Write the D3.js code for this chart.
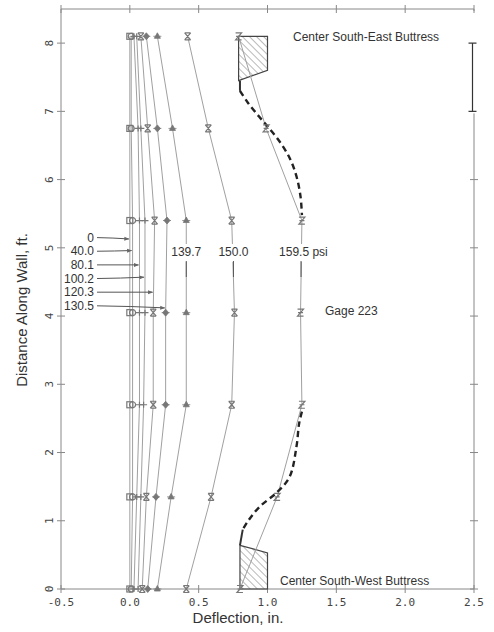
<!DOCTYPE html>
<html><head><meta charset="utf-8">
<script src="https://cdn.jsdelivr.net/npm/d3@7"></script>
<style>body{margin:0;background:#fff}svg{display:block}</style>
</head><body>
<svg id="c" width="494" height="632"></svg>
<script>
// ---- data ----
const gageY = [0, 1.35, 2.7, 4.05, 5.4, 6.75, 8.1];
const pressures = ["0", "40.0", "80.1", "100.2", "120.3", "130.5", "139.7", "150.0", "159.5"];
const defl0   = [0, 0, 0, 0, 0, 0, 0];
const defl40  = [0.01, 0.02, 0.02, 0.02, 0.02, 0.01, 0.01];
const defl80  = [0.03, 0.05, 0.07, 0.07, 0.07, 0.06, 0.03];
const defl100 = [0.06, 0.08, 0.10, 0.11, 0.11, 0.08, 0.05];
const defl120 = [0.09, 0.12, 0.17, 0.17, 0.18, 0.13, 0.08];
const defl130 = [0.13, 0.19, 0.26, 0.26, 0.27, 0.20, 0.12];
const defl139 = [0.20, 0.30, 0.41, 0.41, 0.41, 0.31, 0.20];
const defl150 = [0.41, 0.59, 0.74, 0.76, 0.74, 0.57, 0.42];
const defl159 = [0.80, 1.07, 1.25, 1.24, 1.25, 0.99, 0.79];
const markers = ["square", "circle", "plus", "plus", "bowtie", "diamond", "triangle", "bowtie", "zed"];
const xTicks = [-0.5, 0.0, 0.5, 1.0, 1.5, 2.0, 2.5];
const yTicks = [0, 1, 2, 3, 4, 5, 6, 7, 8];
// left-side labels with arrow target heights (ft)
const leftLabelY = [5.15, 4.95, 4.75, 4.55, 4.35, 4.15];
const arrowTargetY = [5.13, 4.96, 4.75, 4.57, 4.35, 4.12];
// top labels
const topLabels = ["139.7", "150.0", "159.5 psi"];
const topLabelSeries = [6, 7, 8];
// buttresses (hatched)
const seButtressX = [0.79, 1.0, 1.0, 0.79];
const seButtressY = [8.1, 8.1, 7.6, 7.45];
const swButtressX = [0.8, 1.0, 1.0, 0.8];
const swButtressY = [0.64, 0.53, 0, 0];
// heavy solid stubs
const seStubX = [0.8, 0.8], seStubY = [7.45, 7.3];
const swStubX = [0.82, 0.8], swStubY = [0.87, 0.64];
// dashed estimated profile
const dashTopX = [0.8, 0.86, 0.94, 1.0, 1.08, 1.16, 1.21, 1.24, 1.25];
const dashTopY = [7.3, 7.12, 6.92, 6.78, 6.58, 6.32, 6.05, 5.75, 5.48];
const dashBotX = [1.25, 1.23, 1.21, 1.16, 1.07, 0.94, 0.86, 0.82];
const dashBotY = [2.6, 2.43, 2.08, 1.64, 1.42, 1.2, 1.0, 0.87];

const series = [defl0, defl40, defl80, defl100, defl120, defl130, defl139, defl150, defl159];

// ---- layout ----
const svg = d3.select("#c");
const x = d3.scaleLinear().domain([-0.5, 2.5]).range([61, 474]);
const y = d3.scaleLinear().domain([0, 8.5]).range([589, 9]);
const mono = "'DejaVu Sans Mono', monospace";
const sans = "'Liberation Sans', Arial, Helvetica, sans-serif";
const axisCol = "#888";
const lineCol = "#a0a0a0";

const defs = svg.append("defs");
const pat = defs.append("pattern").attr("id", "hatch").attr("patternUnits", "userSpaceOnUse")
  .attr("width", 5).attr("height", 5).attr("patternTransform", "rotate(-45)");
pat.append("line").attr("x1", 0).attr("y1", 0).attr("x2", 0).attr("y2", 5)
  .attr("stroke", "#666").attr("stroke-width", 0.9);
const arrow = defs.append("marker").attr("id", "arr").attr("viewBox", "0 0 10 10")
  .attr("refX", 9).attr("refY", 5).attr("markerWidth", 6).attr("markerHeight", 5).attr("orient", "auto");
arrow.append("path").attr("d", "M0,1 L10,5 L0,9 Z").attr("fill", "#666");

// frame lines
const g = svg.append("g");
g.append("line").attr("x1", x(-0.5)).attr("x2", x(2.5)).attr("y1", y(0)).attr("y2", y(0)).attr("stroke", axisCol);
g.append("line").attr("x1", x(-0.5)).attr("x2", x(2.5)).attr("y1", y(8.5)).attr("y2", y(8.5)).attr("stroke", axisCol);
g.append("line").attr("x1", x(-0.5)).attr("x2", x(-0.5)).attr("y1", y(0)).attr("y2", y(8.5)).attr("stroke", axisCol);
g.append("line").attr("x1", x(2.5)).attr("x2", x(2.5)).attr("y1", y(0)).attr("y2", y(6.97)).attr("stroke", axisCol);
g.append("line").attr("x1", x(2.5)).attr("x2", x(2.5)).attr("y1", y(8.5)).attr("y2", y(8.47)).attr("stroke", axisCol);
// scale bar
const sbx = x(2.5) - 1.5;
g.append("line").attr("x1", sbx).attr("x2", sbx).attr("y1", y(8)).attr("y2", y(7)).attr("stroke", "#333").attr("stroke-width", 1.2);
[8, 7].forEach(v => g.append("line").attr("x1", sbx - 4).attr("x2", sbx + 4).attr("y1", y(v)).attr("y2", y(v)).attr("stroke", "#333").attr("stroke-width", 1.2));

// ticks (crossing style)
xTicks.forEach(t => {
  [y(0), y(8.5)].forEach(yy => g.append("line").attr("x1", x(t)).attr("x2", x(t)).attr("y1", yy - 4).attr("y2", yy + 4).attr("stroke", axisCol));
  g.append("text").attr("x", x(t)).attr("y", 606).attr("text-anchor", "middle")
    .attr("font-family", mono).attr("font-size", 11).attr("fill", "#444")
    .text(t.toFixed(1));
});
yTicks.forEach(t => {
  g.append("line").attr("x1", x(-0.5) - 4).attr("x2", x(-0.5) + 4).attr("y1", y(t)).attr("y2", y(t)).attr("stroke", axisCol);
  if (t < 7) g.append("line").attr("x1", x(2.5) - 4).attr("x2", x(2.5) + 4).attr("y1", y(t)).attr("y2", y(t)).attr("stroke", axisCol);
  g.append("text").attr("transform", `translate(53,${y(t)}) rotate(-90)`).attr("text-anchor", "middle")
    .attr("font-family", mono).attr("font-size", 11).attr("fill", "#444").text(t);
});

// axis titles
svg.append("text").attr("x", 238).attr("y", 623).attr("text-anchor", "middle")
  .attr("font-family", sans).attr("font-size", 15).attr("fill", "#333").text("Deflection, in.");
svg.append("text").attr("transform", `translate(27,310) rotate(-90)`).attr("text-anchor", "middle")
  .attr("font-family", sans).attr("font-size", 15).attr("fill", "#333").text("Distance Along Wall, ft.");

// buttresses
const poly = (xs, ys) => d3.line()(xs.map((v, i) => [x(v), y(ys[i])])) + "Z";
svg.append("path").attr("d", poly(seButtressX, seButtressY)).attr("fill", "url(#hatch)").attr("stroke", "#444").attr("stroke-width", 1.2);
svg.append("path").attr("d", poly(swButtressX, swButtressY)).attr("fill", "url(#hatch)").attr("stroke", "#444").attr("stroke-width", 1.2);

// series lines
const lineGen = d3.line().x(d => x(d[0])).y(d => y(d[1]));
series.forEach(s => {
  svg.append("path").attr("d", lineGen(s.map((v, i) => [v, gageY[i]])))
    .attr("fill", "none").attr("stroke", lineCol).attr("stroke-width", 1);
});

// stubs and dashed
const pl = (xs, ys) => xs.map((v, i) => [v, ys[i]]);
[[seStubX, seStubY], [swStubX, swStubY]].forEach(([a, b]) =>
  svg.append("path").attr("d", lineGen(pl(a, b))).attr("fill", "none").attr("stroke", "#333").attr("stroke-width", 2));
const curve = d3.line().x(d => x(d[0])).y(d => y(d[1])).curve(d3.curveCatmullRom);
[[dashTopX, dashTopY], [dashBotX, dashBotY]].forEach(([a, b]) =>
  svg.append("path").attr("d", curve(pl(a, b))).attr("fill", "none").attr("stroke", "#222")
    .attr("stroke-width", 2.4).attr("stroke-dasharray", "6,4"));

// markers
function drawMarker(sel, type, cx, cy) {
  const c = "#777";
  const m = sel.append("g").attr("transform", `translate(${cx},${cy})`);
  if (type === "square") m.append("rect").attr("x", -3).attr("y", -3).attr("width", 6).attr("height", 6).attr("fill", "none").attr("stroke", c).attr("stroke-width", 1.2);
  else if (type === "circle") m.append("circle").attr("r", 3).attr("fill", "none").attr("stroke", c).attr("stroke-width", 1.2);
  else if (type === "plus") m.append("path").attr("d", "M-3.5,0H3.5M0,-3V3").attr("stroke", c).attr("stroke-width", 1.2);
  else if (type === "bowtie") m.append("path").attr("d", "M-3,-3.5H3M-3,3.5H3M-3,-3.5L3,3.5M3,-3.5L-3,3.5").attr("stroke", c).attr("stroke-width", 1.2).attr("fill", "none");
  else if (type === "zed") m.append("path").attr("d", "M-3,-3.5H3L-3,3.5H3M-2.5,0H2.5").attr("stroke", c).attr("stroke-width", 1.2).attr("fill", "none");
  else if (type === "diamond") m.append("path").attr("d", "M0,-3.5L3,0L0,3.5L-3,0Z M-4,0H4").attr("fill", c).attr("stroke", c).attr("stroke-width", 0.8);
  else if (type === "triangle") m.append("path").attr("d", "M0,-3.5L3,2L-3,2Z M-4,0H4").attr("fill", c).attr("stroke", c).attr("stroke-width", 0.8);
}
series.forEach((s, k) => s.forEach((v, i) => drawMarker(svg, markers[k], x(v), y(gageY[i]))));

// interpolate x on a series at height h
function xAt(s, h) {
  for (let i = 0; i < gageY.length - 1; i++) {
    if (h >= gageY[i] && h <= gageY[i + 1]) {
      const t = (h - gageY[i]) / (gageY[i + 1] - gageY[i]);
      return s[i] + t * (s[i + 1] - s[i]);
    }
  }
  return s[0];
}

// left labels with arrows
leftLabelY.forEach((h, k) => {
  const ty = y(h);
  svg.append("text").attr("x", 94).attr("y", ty + 4).attr("text-anchor", "end")
    .attr("font-family", sans).attr("font-size", 12).attr("fill", "#333").text(pressures[k]);
  const ex = x(xAt(series[k], arrowTargetY[k])) - 1, ey = y(arrowTargetY[k]);
  const sx = 97, sy = ty;
  const mx = (sx + ex) / 2, my = sy + (ey - sy) * 0.2;
  svg.append("path").attr("d", `M${sx},${sy} Q${mx},${my} ${ex},${ey}`).attr("fill", "none")
    .attr("stroke", "#555").attr("stroke-width", 1).attr("marker-end", "url(#arr)");
});

// top labels with tick (white knock-out behind text)
topLabels.forEach((lab, k) => {
  const s = series[topLabelSeries[k]];
  const px = x(xAt(s, 4.55));
  const isPsi = lab.includes("psi");
  const t = svg.append("text").attr("x", isPsi ? px - 22 : px).attr("y", 256).attr("text-anchor", isPsi ? "start" : "middle")
    .attr("font-family", sans).attr("font-size", 12).attr("fill", "#333").text(lab);
  const bb = t.node().getBBox();
  svg.insert("rect", () => t.node()).attr("x", bb.x - 1).attr("y", bb.y - 1).attr("width", bb.width + 2).attr("height", bb.height + 4).attr("fill", "#fff");
  svg.append("line").attr("x1", px).attr("x2", px).attr("y1", 261).attr("y2", 277).attr("stroke", "#555").attr("stroke-width", 1);
});

// annotations
svg.append("text").attr("x", 325).attr("y", 315).attr("font-family", sans).attr("font-size", 12).attr("fill", "#333").text("Gage 223");
svg.append("text").attr("x", 293).attr("y", 41).attr("font-family", sans).attr("font-size", 12).attr("fill", "#333").text("Center South-East Buttress");
svg.append("text").attr("x", 280).attr("y", 585).attr("font-family", sans).attr("font-size", 12).attr("fill", "#333").text("Center South-West Buttress");
</script>
</body></html>
